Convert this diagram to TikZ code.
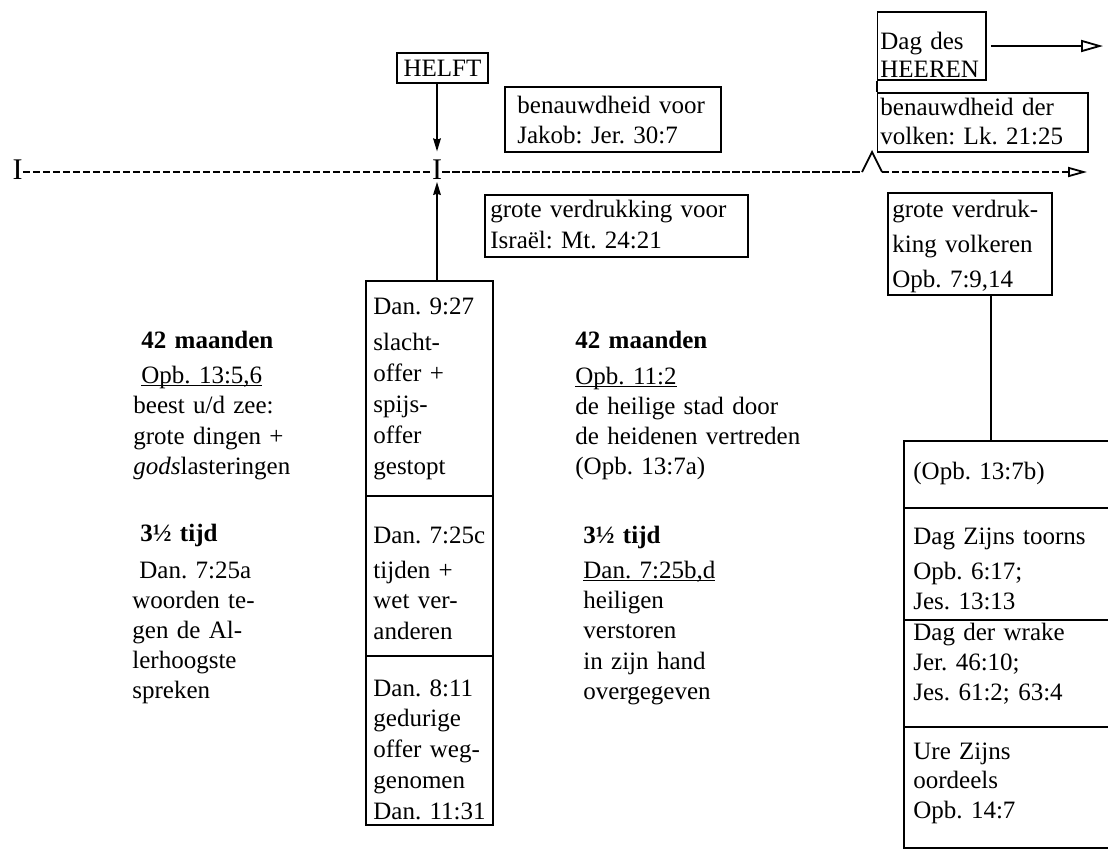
\documentclass[tikz,border=0pt]{standalone}
\usepackage{fontspec}
\setmainfont{Liberation Serif}[WordSpace=2.1]
\usetikzlibrary{arrows.meta,fit}
\newcommand{\fsz}[1]{\fontsize{12.5}{#1}\selectfont}
\newcommand{\ulin}[1]{\leavevmode\setbox0\hbox{#1}\rlap{\rule[-1.6pt]{\wd0}{0.6pt}}\box0}
\begin{document}
\frenchspacing
\begin{tikzpicture}[x=0.5pt,y=-0.5pt,
  frame/.style={draw, line width=0.9pt, inner sep=0pt},
  txt/.style={anchor=base west, inner sep=0pt, align=left},
  bigI/.style={anchor=base, inner sep=0pt, font=\fontsize{15}{15}\selectfont},
  dashline/.style={line width=1.4pt, dash pattern=on 3.6pt off 1.4pt},
  plain/.style={line width=0.9pt},
  filltip/.style={-{Stealth[length=6.5pt,width=3.8pt,inset=0.6pt]}, line width=0.9pt},
  opentip/.style={-{Triangle[open,length=11pt,width=6pt,line width=0.9pt]}, line width=0.9pt},
  opentipb/.style={-{Triangle[open,length=9.5pt,width=5pt,line width=0.9pt]}}
]
\useasboundingbox (0,0) rectangle (1108,852);
\clip (0,0) rectangle (1108,852);

% ---------- timeline ----------
\node[bigI] (lI) at (17.5,179.5) {I};
\node[bigI] (cI) at (437,179.5) {I};
\coordinate (b1) at (862,172);
\coordinate (b2) at (872,152);
\coordinate (b3) at (882,172);
\coordinate (tend) at (1087,172);
\draw[dashline] (lI.east |- b1) -- (cI.west |- b1);
\draw[dashline] (cI.east |- b1) -- (b1);
\draw[plain] (b1) -- (b2) -- (b3);
\draw[dashline, opentipb] (b3) -- (tend);

% ---------- HELFT ----------
\node[frame, minimum width=45.5pt, minimum height=15pt, font=\fsz{14}] (helft) at (442.5,68) {HELFT};
\draw[filltip] (helft.south -| cI) -- ([yshift=4pt]cI.north);

% ---------- upper middle boxes ----------
\node[frame, fit={(505,87) (721,152)}] (jakob) {};
\node[txt, text width=100pt, font=\fsz{15}] (jakobt) at (517,113) {benauwdheid voor\\ Jakob: Jer. 30:7};
\node[frame, fit={(485,195) (748,257)}] (israel) {};
\node[txt, text width=128pt, font=\fsz{15.5}] (israelt) at (490,217) {grote verdrukking voor\\ Israël: Mt. 24:21};

% ---------- centre column box ----------
\node[frame, fit={(366,281) (493,825)}] (cbox) {};
\draw[filltip] (cbox.north -| cI) -- ([yshift=-1pt]cI.south);
\coordinate (cd1) at (0,496);
\coordinate (cd2) at (0,656);
\draw[plain] (cbox.west |- cd1) -- (cbox.east |- cd1);
\draw[plain] (cbox.west |- cd2) -- (cbox.east |- cd2);
\node[txt, text width=70pt, font=\fsz{15.6}] (c1) at (373,314) {Dan. 9:27\\[2.4pt] slacht-\\ offer +\\ spijs-\\ offer\\ gestopt};
\node[txt, text width=70pt, font=\fsz{15.3}] (c2) at (373,543) {Dan. 7:25c\\[2.2pt] tijden +\\ wet ver-\\ anderen};
\node[txt, text width=70pt, font=\fsz{15.4}] (c3) at (373,696) {Dan. 8:11\\ gedurige\\ offer weg-\\ genomen\\ Dan. 11:31};

% ---------- left texts ----------
\node[txt, text width=105pt, font=\fsz{15.3}] (l1) at (133,348) {\hspace*{4pt}\textbf{42 maanden}\\[2.2pt] \hspace*{4pt}\ulin{Opb. 13:5,6}\\ beest u/d zee:\\ grote dingen +\\ \textit{gods}lasteringen};
\node[txt, text width=105pt, font=\fsz{15}] (l2) at (132,541) {\hspace*{4pt}\textbf{3½ tijd}\\[3.5pt] \hspace*{3.5pt}Dan. 7:25a\\ woorden te-\\ gen de Al-\\ lerhoogste\\ spreken};

% ---------- middle texts ----------
\node[txt, text width=135pt, font=\fsz{15}] (m1) at (575,348) {\textbf{42 maanden}\\[3pt] \ulin{Opb. 11:2}\\ de heilige stad door\\ de heidenen vertreden\\ (Opb. 13:7a)};
\node[txt, text width=135pt, font=\fsz{15.2}] (m2) at (583,543) {\textbf{3½ tijd}\\[2.3pt] \ulin{Dan. 7:25b,d}\\ heiligen\\ verstoren\\ in zijn hand\\ overgegeven};

% ---------- right top ----------
\node[frame, fit={(877.5,12) (986,80)}] (dag) {};
\node[txt, text width=52pt, font=\fsz{14}] (dagt) at (880,49) {Dag des\\ HEEREN};
\node[frame, fit={(877.5,93) (1088,152)}] (bd) {};
\node[txt, text width=102pt, font=\fsz{14.5}] (bdt) at (880,115) {benauwdheid der\\ volken: Lk. 21:25};
\draw[plain] (dag.south west) -- (bd.north west);
\coordinate (dagend) at (1103,46);
\draw[opentip] ([xshift=2pt]dag.east) -- (dagend);

\node[frame, fit={(888,193) (1052,295)}] (gv) {};
\node[txt, text width=78pt, font=\fsz{17.5}] (gvt) at (892,217) {grote verdruk-\\ king volkeren\\ Opb. 7:9,14};

% ---------- right column box ----------
\coordinate (rc) at (991,0);
\node[frame, fit={(904,441) (1140,848)}] (rbox) {};
\draw[plain] (gv.south -| rc) -- (rbox.north -| rc);
\coordinate (rd1) at (0,508);
\coordinate (rd2) at (0,620);
\coordinate (rd3) at (0,727);
\draw[plain] (rbox.west |- rd1) -- (rbox.east |- rd1);
\draw[plain] (rbox.west |- rd2) -- (rbox.east |- rd2);
\draw[plain] (rbox.west |- rd3) -- (rbox.east |- rd3);
\node[txt, text width=95pt, font=\fsz{15}] (r1) at (913,479) {(Opb. 13:7b)};
\node[txt, text width=95pt, font=\fsz{15}] (r2) at (913,544) {Dag Zijns toorns\\[2.5pt] Opb. 6:17;\\ Jes. 13:13};
\node[txt, text width=95pt, font=\fsz{15}] (r3) at (913,640) {Dag der wrake\\ Jer. 46:10;\\ Jes. 61:2; 63:4};
\node[txt, text width=95pt, font=\fsz{14.8}] (r4) at (913,759) {Ure Zijns\\ oordeels\\ Opb. 14:7};
\end{tikzpicture}
\end{document}
